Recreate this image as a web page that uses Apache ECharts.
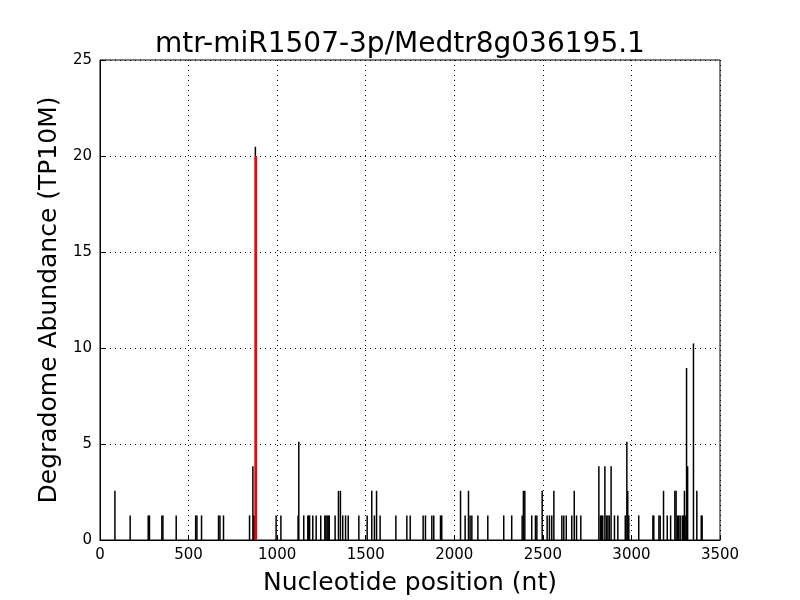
<!DOCTYPE html>
<html>
<head>
<meta charset="utf-8">
<script src="https://cdn.jsdelivr.net/npm/echarts@6/dist/echarts.min.js"></script>
<style>
  html, body { margin: 0; padding: 0; background: #fff; }
  #chart { width: 800px; height: 600px; }
</style>
</head>
<body>
<div id="chart"></div>
<script>
// positions (nt) of degradome tags and their abundance (TP10M)
const positions = [
  87, 173, 275, 282, 352, 358, 433, 543, 550, 576, 672, 680, 700, 847, 866, 872, 880,
  997, 1024, 1121, 1125, 1153, 1176, 1181, 1186, 1204, 1223, 1249, 1272, 1278, 1285, 1291, 1297,
  1330, 1349, 1360, 1373, 1389, 1404, 1464, 1511, 1537, 1552, 1564, 1584, 1673, 1735, 1754,
  1827, 1840, 1876, 1887, 1925, 1932, 2038, 2064, 2083, 2092, 2102, 2136, 2192, 2282, 2327,
  2386, 2393, 2401, 2440, 2461, 2469, 2499, 2527, 2540, 2553, 2565, 2610, 2621, 2635, 2666,
  2680, 2693, 2717, 2819, 2828, 2835, 2841, 2853, 2862, 2870, 2878, 2888, 2907, 2926, 2968,
  2977, 2982, 2988, 3044, 3124, 3129, 3158, 3165, 3184, 3205, 3224, 3248, 3255, 3263, 3270,
  3278, 3290, 3297, 3302, 3310, 3314, 3320, 3353, 3372, 3397, 3402
];
const abundance = [
  2.56, 1.28, 1.28, 1.28, 1.28, 1.28, 1.28, 1.28, 1.28, 1.28, 1.28, 1.28, 1.28, 1.28, 3.84, 1.28, 20.48,
  1.28, 1.28, 1.28, 5.12, 1.28, 1.28, 1.28, 1.28, 1.28, 1.28, 1.28, 1.28, 1.28, 1.28, 1.28, 1.28,
  1.28, 2.56, 2.56, 1.28, 1.28, 1.28, 1.28, 1.28, 2.56, 1.28, 2.56, 1.28, 1.28, 1.28, 1.28,
  1.28, 1.28, 1.28, 1.28, 1.28, 1.28, 2.56, 1.28, 2.56, 1.28, 1.28, 1.28, 1.28, 1.28, 1.28,
  1.28, 2.56, 2.56, 1.28, 1.28, 1.28, 2.56, 1.28, 1.28, 1.28, 2.56, 1.28, 1.28, 1.28, 1.28,
  2.56, 1.28, 1.28, 3.84, 1.28, 1.28, 1.28, 3.84, 1.28, 1.28, 1.28, 3.84, 1.28, 1.28, 1.28,
  5.12, 2.56, 1.28, 1.28, 1.28, 1.28, 1.28, 1.28, 2.56, 1.28, 1.28, 2.56, 2.56, 1.28, 1.28,
  1.28, 1.28, 1.28, 2.56, 1.28, 8.96, 3.84, 10.24, 2.56, 1.28, 1.28
];
// miRNA cleavage site marker
const cleavagePos = [880];
const cleavageVal = [20];

const titleText = 'mtr-miR1507-3p/Medtr8g036195.1';

let myChart = echarts.init(document.getElementById('chart'));
let option = {
  animation: false,
  title: {
    text: titleText,
    left: 'center',
    top: 26,
    textStyle: {
      fontFamily: 'DejaVu Sans',
      fontWeight: 'normal',
      fontSize: 28,
      color: '#000'
    }
  },
  grid: {
    left: 100,
    right: 80,
    top: 60,
    bottom: 60,
    outerBoundsMode: 'none',
    containLabel: false,
    show: true,
    borderColor: '#000',
    borderWidth: 1
  },
  xAxis: {
    type: 'value',
    min: 0,
    max: 3500,
    interval: 500,
    name: 'Nucleotide position (nt)',
    nameLocation: 'middle',
    nameGap: 31,
    nameTextStyle: { fontFamily: 'DejaVu Sans', fontSize: 25, color: '#000' },
    axisLine: { lineStyle: { color: '#000' } },
    axisTick: { inside: true, length: 5, lineStyle: { color: '#000' } },
    axisLabel: {
      fontFamily: 'DejaVu Sans', fontSize: 15, color: '#000', margin: 8,
      formatter: (v) => String(v)
    },
    splitLine: { show: true, lineStyle: { type: [1, 4], color: '#000' } }
  },
  yAxis: {
    type: 'value',
    min: 0,
    max: 25,
    interval: 5,
    name: 'Degradome Abundance (TP10M)',
    nameLocation: 'middle',
    nameGap: 31,
    nameTextStyle: { fontFamily: 'DejaVu Sans', fontSize: 25, color: '#000' },
    axisLine: { lineStyle: { color: '#000' } },
    axisTick: { inside: true, length: 5, lineStyle: { color: '#000' } },
    axisLabel: { fontFamily: 'DejaVu Sans', fontSize: 15, color: '#000', margin: 8 },
    splitLine: { show: true, lineStyle: { type: [1, 4], color: '#000' } }
  },
  series: [
    {
      name: 'tags',
      type: 'bar',
      barWidth: 1.5,
      itemStyle: { color: '#000' },
      data: positions.map((p, i) => [p, abundance[i]]),
      z: 2
    },
    {
      name: 'cleavage',
      type: 'bar',
      barWidth: 2.5,
      barGap: '-100%',
      itemStyle: { color: '#ff0000' },
      data: cleavagePos.map((p, i) => [p, cleavageVal[i]]),
      z: 3
    }
  ]
};
myChart.setOption(option);
</script>
</body>
</html>
